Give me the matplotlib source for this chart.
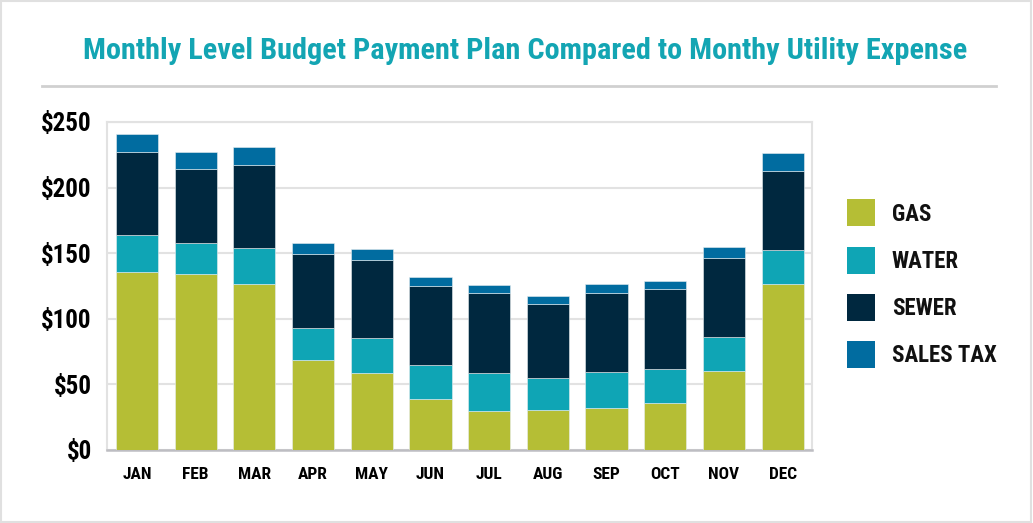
import numpy as np
import matplotlib
matplotlib.use("Agg")
import matplotlib.pyplot as plt
from matplotlib.patches import Rectangle
from matplotlib.lines import Line2D

plt.rcParams['font.family'] = ['Roboto Condensed', 'DejaVu Sans']

# donnees (en $)
mois = ['JAN', 'FEB', 'MAR', 'APR', 'MAY', 'JUN', 'JUL', 'AUG', 'SEP', 'OCT', 'NOV', 'DEC']
gas = [136, 134, 126.5, 68.5, 59, 39, 29.5, 30.5, 32, 36, 60, 126.5]
water = [27.5, 24, 27.5, 24.5, 26, 26, 29.5, 24.5, 27.5, 26, 26, 26]
sewer = [63.5, 56.5, 63.5, 56.5, 60, 60, 60.5, 56, 60.5, 60.5, 60, 60]
sales_tax = [14, 13, 13.5, 8.5, 8.5, 7, 6.5, 6.5, 6.5, 6.5, 9, 13.5]

series = ['GAS', 'WATER', 'SEWER', 'SALES TAX']
couleurs = ['#B5BE35', '#0FA5B5', '#00283F', '#016CA0']
yticks = [0, 50, 100, 150, 200, 250]
ylabels = ['$0', '$50', '$100', '$150', '$200', '$250']

fig = plt.figure(figsize=(10.33, 5.23), dpi=100)
ax = fig.add_axes([107/1033, 1-450/523, 705/1033, 328/523])

x = np.arange(len(mois))
bas = np.zeros(len(mois))
for vals, coul, nom in zip([gas, water, sewer, sales_tax], couleurs, series):
    ax.bar(x, vals, bottom=bas, width=0.72, color=coul, edgecolor='#e8eef0',
           linewidth=0.4, label=nom, zorder=3)
    bas = bas + np.array(vals)

ax.set_xlim(-0.51, 11.5)
ax.set_ylim(0, 250)
ax.set_yticks(yticks)
ax.set_yticklabels(ylabels)
ax.set_xticks(x)
ax.set_xticklabels(mois)
ax.grid(axis='y', color='#e2e2e2', lw=1.5, zorder=0)
for s in ['left', 'top', 'right']:
    ax.spines[s].set_color('#e2e2e2')
    ax.spines[s].set_linewidth(1.5)
ax.spines['bottom'].set_color('#bdbdc2')
ax.spines['bottom'].set_linewidth(1.8)
ax.tick_params(axis='y', length=0, pad=11, labelsize=18)
ax.tick_params(axis='x', length=0, pad=12, labelsize=12.5)
for t in ax.get_yticklabels() + ax.get_xticklabels():
    t.set_fontweight('bold')

# titre et trait de separation
fig.text(525/1033, 1-51/523, 'Monthly Level Budget Payment Plan Compared to Monthy Utility Expense',
         ha='center', va='center', fontsize=21.8, fontweight='bold', color='#13A5B3')
fig.add_artist(Line2D([42/1033, 996/1033], [1-86/523, 1-86/523], color='#d0d0d0', lw=2))

# legende faite a la main
for i, (nom, coul) in enumerate(zip(series, couleurs)):
    yc = 1 - (213 + 47*i)/523
    fig.add_artist(Rectangle((847/1033, yc - 13.5/523), 28/1033, 27/523,
                             facecolor=coul, edgecolor='none'))
    fig.text(892/1033, yc - 1.5/523, nom, ha='left', va='center', fontsize=16.5,
             fontweight='bold', color='#111111')

# cadre exterieur
fig.add_artist(Rectangle((0.001, 0.002), 0.997, 0.996, fill=False,
                         edgecolor='#e0e0e0', lw=1.5))

fig.savefig('out.png', dpi=100)
